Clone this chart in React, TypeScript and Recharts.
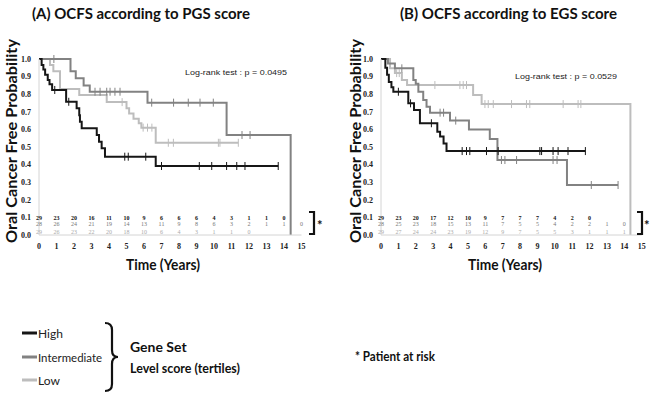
import React from 'react';
import { ComposedChart, Line, Scatter, XAxis, YAxis } from 'recharts';

// ---------- data ----------
const YEARS = [0, 1, 2, 3, 4, 5, 6, 7, 8, 9, 10, 11, 12, 13, 14, 15];
const Y_TICKS = [0, 0.1, 0.2, 0.3, 0.4, 0.5, 0.6, 0.7, 0.8, 0.9, 1.0];

// (A) PGS – step points [time, survival]
const pgsHigh: [number, number][] = [
  [0, 1.0], [0.15, 0.966], [0.25, 0.94], [0.35, 0.91], [0.5, 0.88], [0.6, 0.856], [0.75, 0.824],
  [1.55, 0.757], [2.15, 0.72], [2.3, 0.68], [2.34, 0.644], [2.44, 0.606], [3.3, 0.568],
  [3.43, 0.53], [3.58, 0.493], [3.77, 0.445], [6.67, 0.392], [13.67, 0.392],
];
const pgsInt: [number, number][] = [
  [0, 1.0], [1.8, 0.93], [2.1, 0.89], [2.55, 0.85], [2.9, 0.814], [6.2, 0.752],
  [10.72, 0.568], [14.38, 0],
];
const pgsLow: [number, number][] = [
  [0, 1.0], [0.63, 0.966], [0.82, 0.93], [1.2, 0.83], [2.3, 0.795], [3.87, 0.755], [5.0, 0.72],
  [5.15, 0.69], [5.4, 0.66], [5.7, 0.635], [5.85, 0.61], [6.67, 0.524], [11.39, 0.524],
];
const pgsHighCens = [0.9, 1.7, 4.9, 5.1, 6.1, 7.0, 9.16, 9.87, 10.72, 11.3, 11.77, 13.67];
const pgsIntCens = [0.85, 3.2, 3.49, 3.87, 4.06, 4.34, 4.63, 6.44, 7.69, 8.53, 9.2, 9.96, 11.6, 12.06];
const pgsLowCens = [4.75, 5.95, 6.2, 6.45, 7.39, 7.68, 10.25, 10.34, 11.39];

// (B) EGS
const egsHigh: [number, number][] = [
  [0, 1.0], [0.25, 0.95], [0.35, 0.91], [0.45, 0.87], [0.6, 0.84], [0.71, 0.814], [1.57, 0.748],
  [1.9, 0.71], [2.24, 0.635], [3.24, 0.587], [3.4, 0.56], [3.6, 0.52], [3.77, 0.477], [11.76, 0.477],
];
const egsInt: [number, number][] = [
  [0, 1.0], [0.4, 0.975], [0.8, 0.947], [1.86, 0.88], [2.0, 0.86], [2.15, 0.814], [2.43, 0.767],
  [2.62, 0.729], [2.82, 0.695], [3.97, 0.65], [5.06, 0.6], [6.26, 0.545], [6.7, 0.426],
  [10.7, 0.284], [13.64, 0.284],
];
const egsLow: [number, number][] = [
  [0, 1.0], [0.52, 0.947], [0.8, 0.92], [1.2, 0.88], [1.5, 0.852], [5.3, 0.795], [5.79, 0.744],
  [14.35, 0],
];
const egsHighCens = [1.0, 1.7, 2.9, 4.67, 4.92, 5.11, 6.07, 6.74, 9.14, 9.24, 9.9, 10.19, 10.76, 11.76];
const egsIntCens = [1.2, 3.4, 3.6, 4.3, 6.93, 7.13, 7.8, 9.9, 10.13, 12.1, 13.64];
const egsLowCens = [0.9, 1.05, 3.1, 4.54, 4.73, 4.92, 5.98, 6.17, 6.46, 7.51, 8.37, 8.56, 10.48, 11.34, 11.5];

// numbers at risk (year 0, 1, 2, ...)
const pgsRiskHigh = [29, 23, 20, 16, 11, 10, 9, 6, 6, 6, 4, 3, 1, 1, 0];
const pgsRiskInt = [28, 26, 24, 21, 19, 14, 13, 11, 9, 8, 6, 3, 2, 1, 1, 0];
const pgsRiskLow = [29, 26, 23, 22, 20, 18, 10, 6, 4, 3, 1, 1, 0];
const egsRiskHigh = [29, 23, 20, 17, 12, 10, 9, 7, 7, 7, 4, 2, 0];
const egsRiskInt = [28, 25, 23, 18, 15, 13, 11, 7, 5, 5, 4, 2, 2, 1, 0];
const egsRiskLow = [29, 27, 24, 24, 23, 19, 12, 9, 7, 5, 5, 3, 1, 1, 1];

// ---------- styling ----------
const C_HIGH = '#161616';
const C_INT = '#828282';
const C_LOW = '#bdbdbd';
const TITLE_FONT = 'Lato, "Open Sans", sans-serif';
const TICK_FONT = '"Liberation Serif", "DejaVu Serif", serif';

const toPts = (a: [number, number][]) => a.map(([t, s]) => ({ t, s }));
const survAt = (steps: [number, number][], t: number) => {
  let s = steps[0][1];
  for (const [tt, ss] of steps) if (tt <= t) s = ss;
  return s;
};
const censPts = (steps: [number, number][], times: number[]) =>
  times.map((t) => ({ t, s: survAt(steps, t) }));

const tickShape = (color: string) => (p: any) => (
  <line x1={p.cx} x2={p.cx} y1={p.cy - 4} y2={p.cy + 4} stroke={color} strokeWidth={1} />
);
const riskShape = (color: string, bold: boolean) => (p: any) => (
  <text
    x={p.cx}
    y={p.cy}
    textAnchor="middle"
    dominantBaseline="central"
    fontSize={6}
    fontWeight={bold ? 'bold' : 'normal'}
    fontFamily={TICK_FONT}
    fill={color}
  >
    {p.payload.n}
  </text>
);

const ROW_LEVELS = [0.098, 0.061, 0.016];

type PanelProps = {
  high: [number, number][];
  int: [number, number][];
  low: [number, number][];
  highC: number[];
  intC: number[];
  lowC: number[];
  riskHigh: number[];
  riskInt: number[];
  riskLow: number[];
  marginLeft: number;
  marginRight: number;
};

function Panel(p: PanelProps) {
  const risk = (arr: number[], lvl: number) => arr.map((n, i) => ({ t: YEARS[i], s: lvl, n }));
  return (
    <ComposedChart
      width={325}
      height={300}
      margin={{ top: 59, right: p.marginRight, bottom: 35, left: p.marginLeft }}
    >
      <XAxis
        type="number"
        dataKey="t"
        domain={[0, 15]}
        ticks={YEARS}
        interval={0}
        height={30}
        axisLine={{ stroke: '#d4d4d4' }}
        tickLine={false}
        tick={{ fontSize: 8, fontWeight: 'bold', fill: '#222', fontFamily: TICK_FONT }}
      />
      <YAxis
        type="number"
        dataKey="s"
        domain={[0, 1]}
        ticks={Y_TICKS}
        interval={0}
        width={25}
        axisLine={{ stroke: '#d4d4d4' }}
        tickLine={false}
        tickFormatter={(v: number) => v.toFixed(1)}
        tick={{ fontSize: 8, fontWeight: 'bold', fill: '#222', fontFamily: TICK_FONT }}
      />
      <Line data={toPts(p.low)} dataKey="s" type="stepAfter" stroke={C_LOW} strokeWidth={2} dot={false} isAnimationActive={false} />
      <Line data={toPts(p.int)} dataKey="s" type="stepAfter" stroke={C_INT} strokeWidth={2} dot={false} isAnimationActive={false} />
      <Line data={toPts(p.high)} dataKey="s" type="stepAfter" stroke={C_HIGH} strokeWidth={2} dot={false} isAnimationActive={false} />
      <Scatter data={censPts(p.low, p.lowC)} dataKey="s" shape={tickShape(C_LOW)} isAnimationActive={false} />
      <Scatter data={censPts(p.int, p.intC)} dataKey="s" shape={tickShape(C_INT)} isAnimationActive={false} />
      <Scatter data={censPts(p.high, p.highC)} dataKey="s" shape={tickShape(C_HIGH)} isAnimationActive={false} />
      <Scatter data={risk(p.riskHigh, ROW_LEVELS[0])} dataKey="s" shape={riskShape('#111', true)} isAnimationActive={false} />
      <Scatter data={risk(p.riskInt, ROW_LEVELS[1])} dataKey="s" shape={riskShape('#777', false)} isAnimationActive={false} />
      <Scatter data={risk(p.riskLow, ROW_LEVELS[2])} dataKey="s" shape={riskShape('#aaa', false)} isAnimationActive={false} />
    </ComposedChart>
  );
}

function Overlay() {
  const bold = { fontFamily: TITLE_FONT, fontWeight: 'bold' as const, fill: '#111' };
  return (
    <svg width={650} height={400} style={{ position: 'absolute', left: 0, top: 0, pointerEvents: 'none' }}>
      <text x={32} y={19} fontSize={16} textLength={218} lengthAdjust="spacingAndGlyphs" {...bold}>
        (A) OCFS according to PGS score
      </text>
      <text x={400} y={19} fontSize={16} textLength={217} lengthAdjust="spacingAndGlyphs" {...bold}>
        (B) OCFS according to EGS score
      </text>
      <text x={17} y={141} fontSize={16} textAnchor="middle" transform="rotate(-90 17 141)" textLength={204} lengthAdjust="spacingAndGlyphs" {...bold}>
        Oral Cancer Free Probability
      </text>
      <text x={361} y={141} fontSize={16} textAnchor="middle" transform="rotate(-90 361 141)" textLength={204} lengthAdjust="spacingAndGlyphs" {...bold}>
        Oral Cancer Free Probability
      </text>
      <text x={163} y={270} fontSize={15} textAnchor="middle" textLength={74} lengthAdjust="spacingAndGlyphs" {...bold}>
        Time (Years)
      </text>
      <text x={505} y={270} fontSize={15} textAnchor="middle" textLength={74} lengthAdjust="spacingAndGlyphs" {...bold}>
        Time (Years)
      </text>
      <text x={185} y={75} fontSize={8} fontFamily='"Liberation Sans", Arial, sans-serif' fill="#222" textLength={102} lengthAdjust="spacingAndGlyphs">
        Log-rank test : p = 0.0495
      </text>
      <text x={515} y={79} fontSize={8} fontFamily='"Liberation Sans", Arial, sans-serif' fill="#222" textLength={102} lengthAdjust="spacingAndGlyphs">
        Log-rank test : p = 0.0529
      </text>
      {/* at-risk brackets */}
      <path d="M309,212 H314 V234 H309" stroke="#111" strokeWidth={2.2} fill="none" />
      <text x={317} y={230} fontSize={13} {...bold}>*</text>
      <path d="M637,212 H642 V234 H637" stroke="#111" strokeWidth={2.2} fill="none" />
      <text x={644} y={230} fontSize={13} {...bold}>*</text>
      {/* legend */}
      <line x1={22} x2={37} y1={333} y2={333} stroke={C_HIGH} strokeWidth={3} />
      <line x1={22} x2={37} y1={357} y2={357} stroke={C_INT} strokeWidth={3} />
      <line x1={22} x2={37} y1={380} y2={380} stroke={C_LOW} strokeWidth={3} />
      <text x={38} y={337.5} fontSize={12} fontFamily={TITLE_FONT} fill="#222">High</text>
      <text x={38} y={361.5} fontSize={12} fontFamily={TITLE_FONT} fill="#222" textLength={64} lengthAdjust="spacingAndGlyphs">Intermediate</text>
      <text x={38} y={384.5} fontSize={12} fontFamily={TITLE_FONT} fill="#222">Low</text>
      <path
        d="M105,323 Q112,323 112,330 L112,350 Q112,357 118,357 Q112,357 112,364 L112,384 Q112,391 105,391"
        stroke="#111"
        strokeWidth={2.2}
        fill="none"
      />
      <text x={130} y={352} fontSize={14} {...bold}>Gene Set</text>
      <text x={130} y={373} fontSize={14} textLength={110} lengthAdjust="spacingAndGlyphs" {...bold}>Level score (tertiles)</text>
      <text x={355} y={361} fontSize={13} textLength={80} lengthAdjust="spacingAndGlyphs" {...bold}>* Patient at risk</text>
    </svg>
  );
}

export default function App() {
  return (
    <div style={{ position: 'absolute', left: 0, top: 0, width: 650, height: 400, background: '#fff', overflow: 'hidden' }}>
      <div style={{ position: 'absolute', left: 0, top: 0 }}>
        <Panel
          high={pgsHigh} int={pgsInt} low={pgsLow}
          highC={pgsHighCens} intC={pgsIntCens} lowC={pgsLowCens}
          riskHigh={pgsRiskHigh} riskInt={pgsRiskInt} riskLow={pgsRiskLow}
          marginLeft={14} marginRight={23.5}
        />
      </div>
      <div style={{ position: 'absolute', left: 325, top: 0 }}>
        <Panel
          high={egsHigh} int={egsInt} low={egsLow}
          highC={egsHighCens} intC={egsIntCens} lowC={egsLowCens}
          riskHigh={egsRiskHigh} riskInt={egsRiskInt} riskLow={egsRiskLow}
          marginLeft={31} marginRight={8.3}
        />
      </div>
      <Overlay />
    </div>
  );
}
